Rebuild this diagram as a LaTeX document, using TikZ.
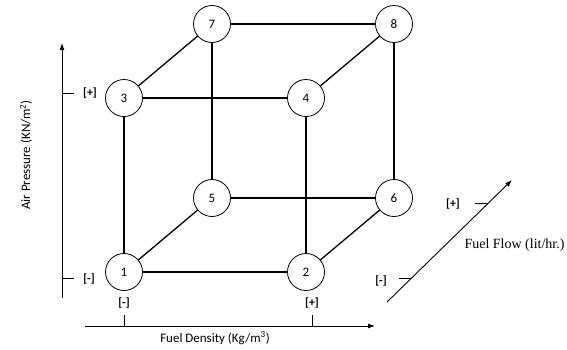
\documentclass[tikz,border=0pt]{standalone}
\usepackage{fontspec}
\usepackage{tikz}
\setmainfont{Carlito}
\newfontfamily\flowfont{Liberation Serif}
\usetikzlibrary{arrows.meta,positioning}

\begin{document}
\begin{tikzpicture}[x=1pt,y=-1pt,
	vertex/.style={circle,draw,line width=0.8pt,minimum size=37pt,inner sep=0pt,font=\fontsize{13}{13}\selectfont},
	link/.style={line width=1.3pt},
	axis/.style={line width=0.9pt,-{Latex[length=7pt,width=5pt]}},
	tickline/.style={line width=0.8pt},
	signlabel/.style={font=\bfseries\fontsize{12}{12}\selectfont},
	axlabel/.style={font=\fontsize{13}{13}\selectfont}]

			\useasboundingbox (0,0) rectangle (567,349);

			% cube corners
			\node[vertex] (n1) at (124,272) {1};
			\node[vertex] (n2) at (306,272) {2};
			\node[vertex] (n3) at (124,98) {3};
			\node[vertex] (n4) at (306,98) {4};
			\node[vertex] (n5) at (212,198) {5};
			\node[vertex] (n6) at (394,198) {6};
			\node[vertex] (n7) at (212,24) {7};
			\node[vertex] (n8) at (394,24) {8};

			\draw[link] (n1) -- (n2);
			\draw[link] (n1) -- (n3);
			\draw[link] (n1) -- (n5);
			\draw[link] (n2) -- (n4);
			\draw[link] (n2) -- (n6);
			\draw[link] (n3) -- (n4);
			\draw[link] (n3) -- (n7);
			\draw[link] (n4) -- (n8);
			\draw[link] (n5) -- (n6);
			\draw[link] (n5) -- (n7);
			\draw[link] (n6) -- (n8);
			\draw[link] (n7) -- (n8);

			% air pressure axis
			\coordinate (ybot) at (62,298);
			\coordinate (ytop) at (62,43);
			\draw[axis] (ybot) -- (ytop);
			\draw[tickline] (62,93) -- (74,93);
			\draw[tickline] (62,278) -- (74,278);
			\node[signlabel] (yplus) at (90,93) {[+]};
			\node[signlabel] (yminus) at (89,279) {[-]};
			\node[axlabel,rotate=90] (ylab) at (26,155) {Air Pressure (KN/m\textsuperscript{2})};

			% fuel density axis
			\coordinate (xleft) at (85,326);
			\coordinate (xright) at (375,326);
			\draw[axis] (xleft) -- (xright);
			\draw[tickline] (124,326) -- (124,315);
			\draw[tickline] (312,326) -- (312,315);
			\node[signlabel] (xminus) at (124,303) {[-]};
			\node[signlabel] (xplus) at (312,303) {[+]};
			\node[axlabel] (xlab) at (215,338) {Fuel Density (Kg/m\textsuperscript{3})};

			% fuel flow axis
			\coordinate (zlow) at (387,302);
			\coordinate (zhigh) at (512,180);
			\draw[axis] (zlow) -- (zhigh);
			\draw[tickline] (475,203) -- (488,203);
			\draw[tickline] (399,278) -- (412,278);
			\node[signlabel] (zplus) at (453,204) {[+]};
			\node[signlabel] (zminus) at (381,281) {[-]};
			\node[font=\flowfont\fontsize{14}{14}\selectfont,anchor=west] (zlab) at (461,245) {Fuel Flow (lit/hr.)};

		\end{tikzpicture}
\end{document}
